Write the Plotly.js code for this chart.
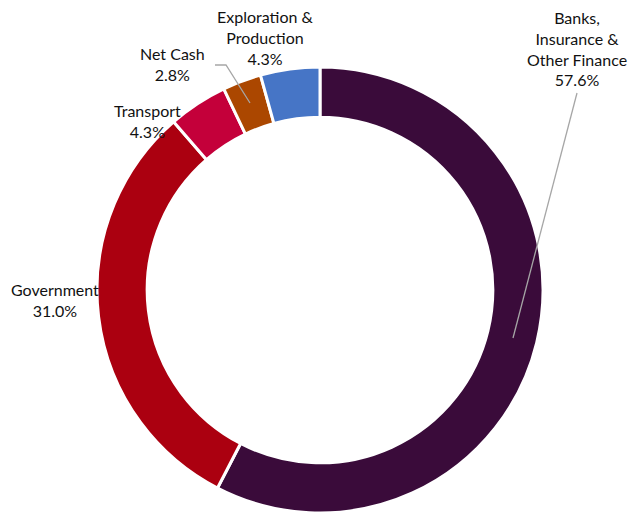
<!DOCTYPE html>
<html><head><meta charset="utf-8">
<script src="https://cdn.plot.ly/plotly-3.0.1.min.js"></script>
<style>html,body{margin:0;padding:0;background:#fff}#chart{width:632px;height:515px}</style>
</head><body><div id="chart"></div>
<script>
// Data
const categories = ["Banks,<br>Insurance &<br>Other Finance", "Government", "Transport", "Net Cash", "Exploration &<br>Production"];
const values = [57.6, 31.0, 4.3, 2.8, 4.3];
const colors = ["#3a0b3a", "#ab0010", "#c4003a", "#ab4700", "#4675c6"];

// Label placement (pixel centres) and leader lines
const W = 632, H = 515;
const labelPos = [[577, 48], [55, 300], [147, 121], [172, 64], [265, 37]];
const leaders = [
  [[577, 93], [513, 338]],
  null, null,
  [[215, 65], [226, 65], [250, 103]],
  null
];
const px = x => x / W, py = y => 1 - y / H;

const annotations = categories.map((c, i) => ({
  xref: 'paper', yref: 'paper',
  x: px(labelPos[i][0]), y: py(labelPos[i][1]),
  xanchor: 'center', yanchor: 'middle', showarrow: false,
  text: c + '<br>' + values[i].toFixed(1) + '%',
  font: {family: 'Lato, sans-serif', size: 16, color: '#111111'}
}));
const shapes = [];
leaders.forEach(l => {
  if (!l) return;
  let path = 'M ' + l.map(p => px(p[0]) + ',' + py(p[1])).join(' L ');
  shapes.push({type: 'path', xref: 'paper', yref: 'paper', path: path,
    line: {color: '#a6a6a6', width: 1.3}});
});

const cx = 320, cy = 290, R = 223;
const trace = {
  type: 'pie', values: values, labels: categories,
  marker: {colors: colors, line: {color: '#ffffff', width: 3}},
  hole: 0.775, sort: false, direction: 'clockwise', rotation: 0,
  textinfo: 'none', hoverinfo: 'label+percent', showlegend: false,
  domain: {x: [px(cx - R), px(cx + R)], y: [py(cy + R), py(cy - R)]}
};
Plotly.newPlot('chart', [trace], {
  width: W, height: H, margin: {l: 0, r: 0, t: 0, b: 0},
  paper_bgcolor: '#fff', showlegend: false,
  annotations: annotations, shapes: shapes
}, {displayModeBar: false, staticPlot: true});
</script></body></html>
